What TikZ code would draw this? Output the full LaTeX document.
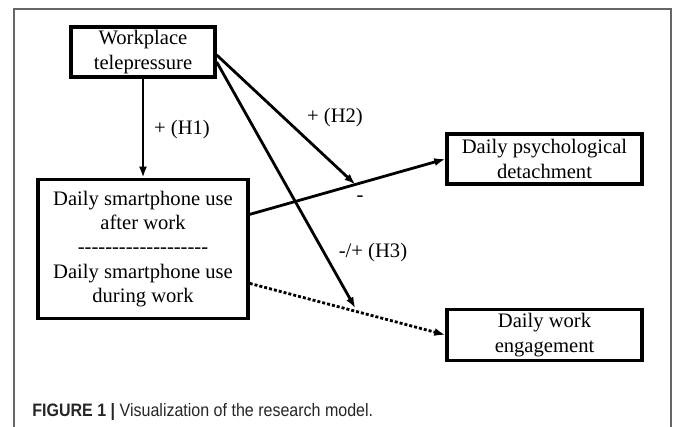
\documentclass[tikz,border=0pt]{standalone}
\usepackage{fontspec}
\setmainfont{Liberation Serif}
\newfontfamily\capfont{Liberation Sans}[FakeStretch=0.89]
\usetikzlibrary{positioning,arrows.meta}

\newcommand{\dashrow}{\foreach \k in {1,...,19}{\mbox{-}}}

\begin{document}
\begin{tikzpicture}[x=0.5pt, y=-0.5pt, font=\fontsize{10.3}{12.2}\selectfont]

    % Define styles
    \tikzstyle{construct} = [rectangle, draw, line width=1.7pt, align=center, inner sep=0pt]
    \tikzstyle{effect} = [line width=1.4pt, -{Latex[length=5.5pt,width=4pt]}]
    \tikzstyle{dotflow} = [effect, dash pattern=on 1.5pt off 1pt]
    \tikzstyle{hyp} = [inner sep=0pt]

    \useasboundingbox (0,0) rectangle (673,427);

    % Figure frame
    \draw [black!60, line width=0.9pt] (14,427) -- (14,9) -- (671,9) -- (671,427);

    % Constructs
    \node [construct, minimum width=72pt, minimum height=25pt] (telepressure) at (143,52) {Workplace\\telepressure};
    \node [construct, minimum width=105pt, minimum height=69.5pt, below=49.5pt of telepressure] (smartphone) {Daily smartphone use\\after work\\\dashrow\\Daily smartphone use\\during work};
    \node [construct, minimum width=97.5pt, minimum height=25pt] (detachment) at (544.5,159) {Daily psychological\\detachment};
    \node [construct, minimum width=97.5pt, minimum height=25.5pt, below=61pt of detachment] (engagement) {Daily work\\engagement};

    % Paths
    \draw [effect] (telepressure) -- (smartphone);
    \draw [effect] ([yshift=17.25pt]smartphone.east) -- coordinate[pos=0.54] (hit2) (detachment.west);
    \draw [dotflow] ([yshift=-17.25pt]smartphone.east) -- coordinate[pos=0.54] (hit3) (engagement.west);
    \draw [effect] ([yshift=-1.5pt]telepressure.east) -- (hit2);
    \draw [effect] ([yshift=-5pt]telepressure.east) -- ([yshift=1.5pt]hit3);

    % Hypotheses
    \node [hyp] (h1) at (182,130) {+ (H1)};
    \node [hyp] (h2) at (335,118) {+ (H2)};
    \node [hyp] (neg) at (360,199) {-};
    \node [hyp] (h3) at (373,253) {-/+ (H3)};

    % Caption
    \node [anchor=base west, inner sep=0pt, font=\capfont\fontsize{9}{11}\selectfont, text=black!85] (caption) at (32,416) {\textbf{FIGURE 1 |} Visualization of the research model.};

\end{tikzpicture}
\end{document}
